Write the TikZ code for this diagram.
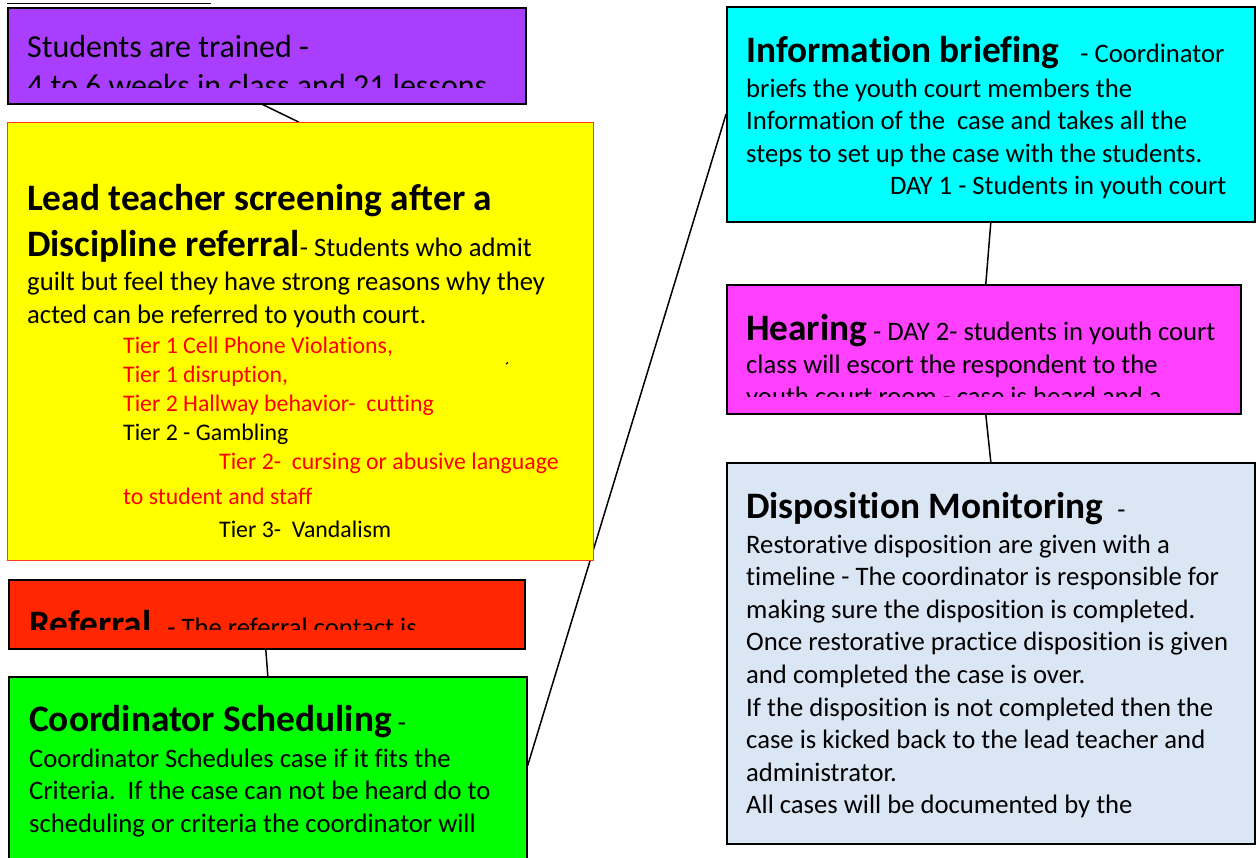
\documentclass[tikz,border=0pt]{standalone}
\usepackage{fontspec}
\setmainfont{Carlito}[Ligatures=CommonOff]
\usetikzlibrary{backgrounds}
\definecolor{trainviolet}{HTML}{A93EFF}
\definecolor{screenyellow}{HTML}{FFFF00}
\definecolor{screenedge}{HTML}{FF3A20}
\definecolor{referralred}{HTML}{FF2600}
\definecolor{schedulegreen}{HTML}{00FF00}
\definecolor{briefcyan}{HTML}{00FFFF}
\definecolor{hearmagenta}{HTML}{FF40FF}
\definecolor{monitorblue}{HTML}{DBE6F4}
\newcommand{\headfont}{\fontsize{37.33}{45.5}\selectfont\bfseries}
\newcommand{\bodyfont}{\fontsize{26.67}{32.6}\selectfont}
\newcommand{\tierfont}{\fontsize{23.8}{29.3}\selectfont}
\newcommand{\trainfont}{\fontsize{32}{39}\selectfont}
\newcommand{\boxlines}[2]{\parbox[t]{560pt}{#1\lineskiplimit=-100pt #2}}
\begin{document}
\begin{tikzpicture}[x=1pt, y=-1pt, stage/.style={draw=black,line width=1.6pt,anchor=north west,inner sep=0pt},words/.style={anchor=base west,inner sep=0pt}]%
\useasboundingbox (0,0) rectangle (1256,857);
\draw[line width=1pt] (7,3) -- (211,3);
\begin{scope}
\node[stage,fill=trainviolet,minimum width=518pt,minimum height=96pt] (train) at (7,7) {};
\node[stage,fill=screenyellow,draw=screenedge,line width=1.2pt,minimum width=586pt,minimum height=438pt] (screen) at (7,122) {};
\node[stage,fill=referralred,minimum width=516pt,minimum height=69pt] (referral) at (8,579) {};
\node[stage,fill=schedulegreen,minimum width=518pt,minimum height=194pt] (schedule) at (8,676) {};
\node[stage,fill=briefcyan,minimum width=528pt,minimum height=215pt] (briefing) at (726,6) {};
\node[stage,fill=hearmagenta,minimum width=514pt,minimum height=129pt] (hearing) at (726,284) {};
\node[stage,fill=monitorblue,minimum width=528pt,minimum height=381pt] (monitor) at (726,462) {};
\end{scope}
\begin{scope}[on background layer,every edge/.style={draw=black,line width=1.5pt}]
\draw ([xshift=-4pt]train.south) edge ([xshift=-2pt]screen.north);
\draw ([xshift=-1pt]referral.south) edge (schedule.north);
\draw ([yshift=8pt]schedule.east) edge (briefing.west);
\draw (briefing.south) edge ([xshift=2pt]hearing.north);
\draw ([xshift=2pt]hearing.south) edge (monitor.north);
\end{scope}
% texts
\begin{scope}
\clip (7,7) rectangle (525,87);
\node[words] (traintext) at (27,57) {\boxlines{\trainfont}{Students are trained -\\4 to 6 weeks in class and 21 lessons}};
\end{scope}
\node[words] (screentext) at (27,210) {\boxlines{\bodyfont}{{\headfont Lead teacher screening after a}\\[13.4pt]{\headfont Discipline referral}- Students who admit\\[1.4pt]guilt but feel they have strong reasons why they\\[0.4pt]acted can be referred to youth court.}};
\node[words,red] (tiertext) at (123,353) {\boxlines{\tierfont}{Tier 1 Cell Phone Violations,\\Tier 1 disruption,\\Tier 2 Hallway behavior-\ \ cutting\\{\color{black}Tier 2 - Gambling}\\[-1pt]\hspace*{96pt}Tier 2-\ \ cursing or abusive language\\[5.7pt]to student and staff\\[3.7pt]\hspace*{96pt}{\color{black}Tier 3-\ \ Vandalism}}};
\draw[line width=1.2pt] (506,364) -- (508,362.5);
\begin{scope}
\clip (8,579) rectangle (524,629);
\node[words] (referraltext) at (29,636) {\boxlines{\bodyfont}{{\headfont Referral}\hspace{16pt}- The referral contact is}};
\end{scope}
\node[words] (scheduletext) at (29,731) {\boxlines{\bodyfont}{{\headfont Coordinator Scheduling} -\\[3.4pt]Coordinator Schedules case if it fits the\\Criteria.\ \ If the case can not be heard do to\\scheduling or criteria the coordinator will}};
\node[words] (briefingtext) at (746,62) {\boxlines{\bodyfont}{{\headfont Information briefing}\hspace{21pt}- Coordinator\\[2.4pt]briefs the youth court members the\\Information of the\ \ case and takes all the\\steps to set up the case with the students.\\\hspace*{144pt}DAY 1 - Students in youth court}};
\begin{scope}
\clip (726,284) rectangle (1240,396);
\node[words] (hearingtext) at (746,340) {\boxlines{\bodyfont}{{\headfont Hearing} - DAY 2- students in youth court\\[0.4pt]class will escort the respondent to the\\youth court room - case is heard and a}};
\end{scope}
\node[words] (monitortext) at (746,518) {\boxlines{\bodyfont}{{\headfont Disposition Monitoring}\hspace{14pt}-\\[2.4pt]Restorative disposition are given with a\\timeline - The coordinator is responsible for\\making sure the disposition is completed.\\Once restorative practice disposition is given\\and completed the case is over.\\If the disposition is not completed then the\\case is kicked back to the lead teacher and\\administrator.\\All cases will be documented by the}};
\end{tikzpicture}
\end{document}
